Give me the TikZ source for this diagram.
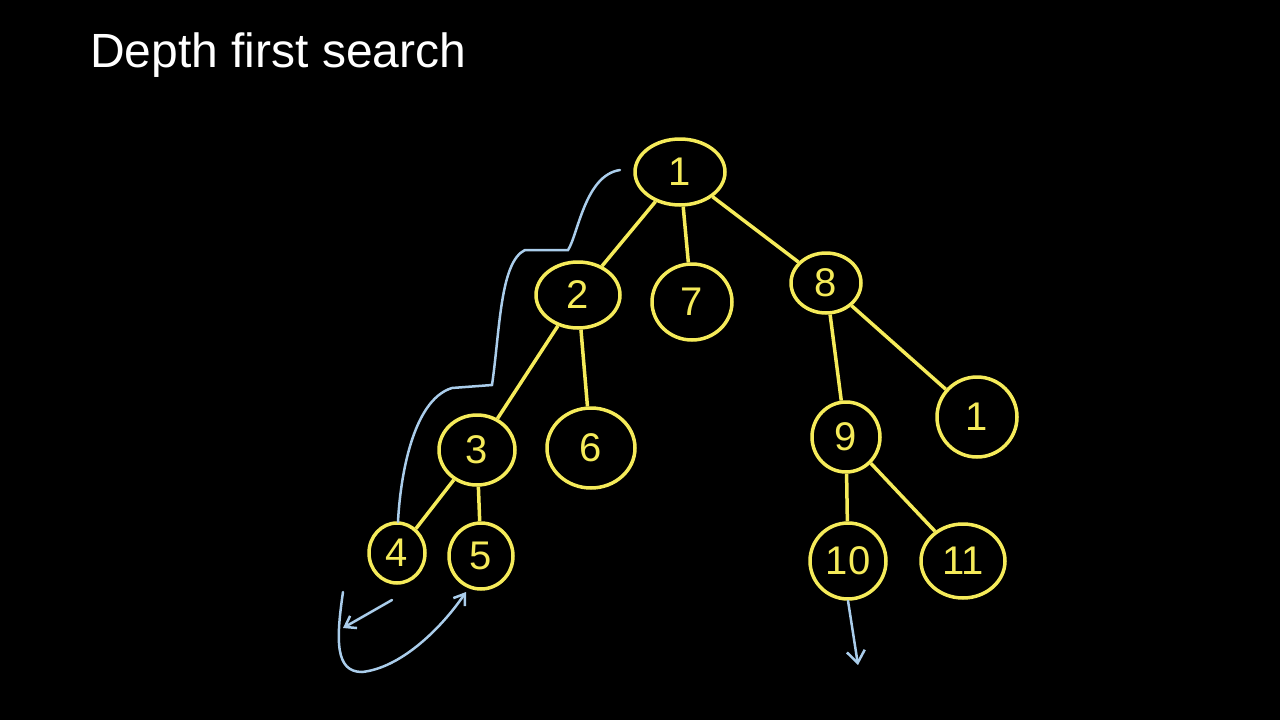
\documentclass[tikz,border=0pt]{standalone}
\usepackage{fontspec}
\setmainfont{Liberation Sans}
\usetikzlibrary{shapes.geometric,arrows.meta}
\definecolor{yel}{RGB}{245,235,90}
\definecolor{blu}{RGB}{170,205,235}
\tikzset{
 tn/.style={draw=yel,line width=3.5pt,ellipse,minimum width=#1,text=yel,font=\fontsize{40}{42}\selectfont,inner sep=0pt},
 te/.style={draw=yel,line width=3.5pt},
 bl/.style={draw=blu,line width=2.5pt,line cap=round},
}
\begin{document}
\begin{tikzpicture}[x=1pt,y=-1pt]
\fill[black] (0,0) rectangle (1280,720);
\useasboundingbox (0,0) rectangle (1280,720);
\node[anchor=west,text=white,font=\fontsize{48}{52}\selectfont,inner sep=0pt] (title) at (90,55) {Depth first search};
\node[tn=90pt,minimum height=66pt] (n1) at (680,172) {1};
\node[tn=84pt,minimum height=66pt] (n2) at (578,295) {2};
\node[tn=80pt,minimum height=76pt] (n7) at (692,302) {7};
\node[tn=70pt,minimum height=60pt] (n8) at (826,283) {8};
\node[tn=76pt,minimum height=70pt] (n3) at (477,450) {3};
\node[tn=88pt,minimum height=80pt] (n6) at (591,448) {6};
\node[tn=68pt,minimum height=70pt] (n9) at (846,437) {9};
\node[tn=80pt,minimum height=80pt] (n1b) at (977,417) {1};
\node[tn=56pt,minimum height=60pt] (n4) at (397,553) {4};
\node[tn=64pt,minimum height=66pt] (n5) at (481,556) {5};
\node[tn=76pt,minimum height=76pt] (n10) at (848,561) {10};
\node[tn=84pt,minimum height=74pt] (n11) at (963,561) {11};
\draw[te] (n1) -- (n2);
\draw[te] (n1) -- (n7);
\draw[te] (n1) -- (n8);
\draw[te] (n2) -- (n3);
\draw[te] (n2) -- (n6);
\draw[te] (n8) -- (n9);
\draw[te] (n8) -- (n1b);
\draw[te] (n3) -- (n4);
\draw[te] (n3) -- (n5);
\draw[te] (n9) -- (n10);
\draw[te] (n9) -- (n11);
\draw[bl] (620,170) .. controls (585,175) and (578,235) .. (568,250) -- (525,250)
  .. controls (500,262) and (500,330) .. (492,385) -- (452,388)
  .. controls (412,400) and (400,480) .. (398,522);
\draw[bl,-{Straight Barb[length=10pt,width=14pt]}] (392,600) -- (343,628);
\draw[bl,-{Straight Barb[length=10pt,width=14pt]}] (343,592) .. controls (336,640) and (335,672) .. (362,672)
  .. controls (400,668) and (440,630) .. (466,592);
\draw[bl,-{Straight Barb[length=12pt,width=18pt]}] (n10.south) -- (858,665);
\end{tikzpicture}
\end{document}
